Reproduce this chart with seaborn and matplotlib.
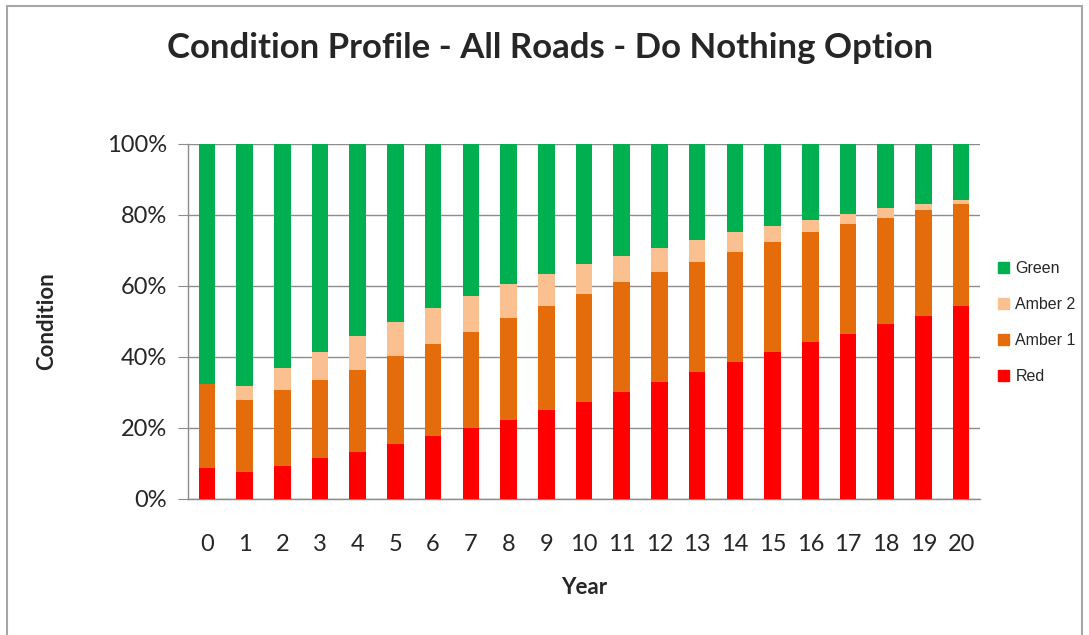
import numpy as np
import pandas as pd
import matplotlib
matplotlib.use("Agg")
import matplotlib.pyplot as plt
import seaborn as sns
from matplotlib.patches import Patch
from matplotlib.lines import Line2D
from matplotlib.ticker import FuncFormatter, MultipleLocator

# Dados (percentagem de cada segmento)
anos = [str(a) for a in range(21)]
red = [8.7, 7.6, 9.3, 11.5, 13.2, 15.5, 17.7, 20.0, 22.2, 25.0, 27.3,
       30.1, 32.9, 35.7, 38.5, 41.3, 44.1, 46.4, 49.2, 51.5, 54.3]
amber1 = [23.6, 20.2, 21.3, 22.0, 23.1, 24.7, 25.9, 27.0, 28.7, 29.3, 30.3,
          30.9, 30.9, 30.9, 30.9, 31.0, 31.0, 30.9, 29.8, 29.8, 28.6]
amber2 = [0.0, 4.0, 6.2, 7.8, 9.5, 9.6, 10.1, 10.1, 9.5, 9.0, 8.5,
          7.3, 6.8, 6.2, 5.7, 4.5, 3.3, 2.8, 2.8, 1.6, 1.2]
green = [67.7, 68.2, 63.2, 58.7, 54.2, 50.2, 46.3, 42.9, 39.6, 36.7, 33.9,
         31.7, 29.4, 27.2, 24.9, 23.2, 21.6, 19.9, 18.2, 17.1, 15.9]

series = ["Red", "Amber 1", "Amber 2", "Green"]
cores = {"Red": "#FF0000", "Amber 1": "#E46C0A", "Amber 2": "#FAC090", "Green": "#00B050"}

df = pd.DataFrame({"Year": anos, "Red": red, "Amber 1": amber1,
                   "Amber 2": amber2, "Green": green})

sns.set_style("white")
plt.rcParams["font.family"] = ["Lato", "DejaVu Sans"]

fig = plt.figure(figsize=(10.89, 6.35), dpi=100)
ax = fig.add_axes([0.1726, 0.2142, 0.7273, 0.5598])

# barras empilhadas: desenha do topo acumulado para baixo
acumulado = df[series].cumsum(axis=1)
for nome in reversed(series):
    sns.barplot(x=df["Year"], y=acumulado[nome], color=cores[nome], width=0.44,
                saturation=1, ax=ax, zorder=3, linewidth=0)

ax.set_ylim(0, 100)
ax.set_xlim(-0.5, 20.5)
ax.yaxis.set_major_locator(MultipleLocator(20))
ax.yaxis.set_major_formatter(FuncFormatter(lambda v, p: f"{int(v)}%"))
ax.grid(axis="y", color="#8C8C8C", linewidth=1, zorder=0)
ax.set_axisbelow(True)

for lado in ["top", "right"]:
    ax.spines[lado].set_visible(False)
for lado in ["left", "bottom"]:
    ax.spines[lado].set_color("#8C8C8C")
    ax.spines[lado].set_linewidth(1)

ax.set_xticks(np.arange(-0.5, 21, 1), minor=True)
ax.tick_params(axis="x", which="major", length=0, pad=25, labelsize=17)
ax.tick_params(axis="x", which="minor", length=7, color="#8C8C8C", direction="out")
ax.tick_params(axis="y", length=7, color="#8C8C8C", direction="out", pad=8, labelsize=17, left=True)

ax.set_xlabel("Year", fontsize=16, fontweight="bold", labelpad=16)
ax.set_ylabel("Condition", fontsize=16, fontweight="bold", labelpad=36)

fig.text(0.505, 1 - 48 / 635, "Condition Profile - All Roads - Do Nothing Option",
         fontsize=25, fontweight="bold", ha="center", va="center")

# legenda
handles = [Patch(color=cores[n]) for n in ["Green", "Amber 2", "Amber 1"]]
handles.append(Patch(color=cores["Red"]))
fig.legend(handles, ["Green", "Amber 2", "Amber 1", "Red"], loc="center left",
           bbox_to_anchor=(0.903, 0.492), frameon=False, labelspacing=1.3,
           handlelength=0.7, handleheight=0.7, handletextpad=0.4,
           prop={"family": "Liberation Sans", "size": 11.5})

# moldura do gráfico
borda = dict(color="#A6A6A6", linewidth=1.5, transform=fig.transFigure)
fig.add_artist(Line2D([7 / 1089, 7 / 1089], [0, 1 - 6 / 635], **borda))
fig.add_artist(Line2D([7 / 1089, 1082 / 1089], [1 - 6 / 635, 1 - 6 / 635], **borda))
fig.add_artist(Line2D([1082 / 1089, 1082 / 1089], [0, 1 - 6 / 635], **borda))

fig.savefig("out.png", dpi=100)
